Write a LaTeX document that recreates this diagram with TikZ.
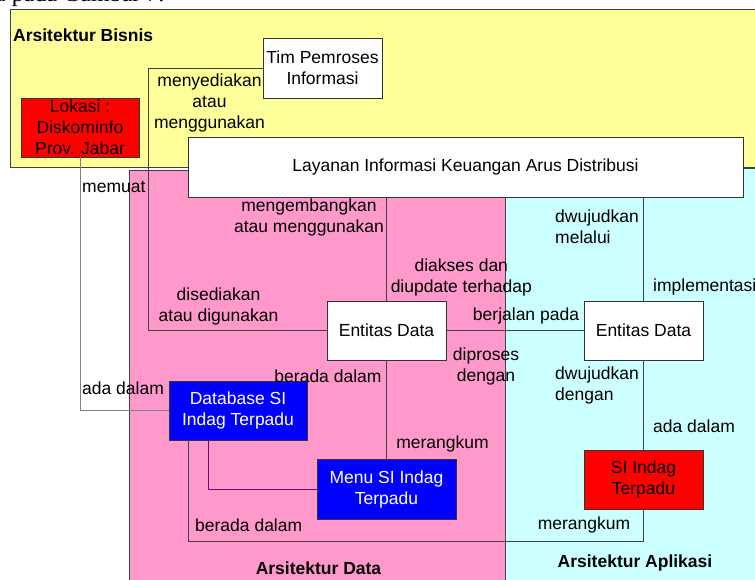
\documentclass[tikz,border=0pt]{standalone}
\usepackage{fontspec}
\setmainfont{Liberation Sans}
\newfontfamily\serifdoc{Liberation Serif}
\definecolor{ylw}{HTML}{FFFF99}
\definecolor{pnk}{HTML}{FF99CC}
\definecolor{cyn}{HTML}{CCFFFF}
\definecolor{lred}{HTML}{FF0000}
\definecolor{lblue}{HTML}{0000FF}
\definecolor{lpurple}{HTML}{800080}
\tikzset{
  box/.style={draw=black!80, line width=0.8pt, inner sep=0pt, align=center},
  wbox/.style={box, fill=white},
  rbox/.style={box, fill=lred, text=black},
  bbox/.style={box, fill=lblue, text=white},
  lbl/.style={inner sep=0pt, align=center},
  conn/.style={draw=black!75, line width=0.8pt},
  area/.style={draw=black!75, line width=0.8pt},
  title/.style={inner sep=0pt, font=\fontsize{17.5}{21}\selectfont\bfseries}
}
\begin{document}
\begin{tikzpicture}[x=1pt, y=-1pt, font=\fontsize{17.5}{21}\selectfont]
\useasboundingbox (0,0) rectangle (755,579);
\clip (0,0) rectangle (755,579);
\fill[white] (0,0) rectangle (755,579);
% document text fragment
\node[anchor=base west, inner sep=0pt, font=\fontsize{24}{26}\serifdoc] (doc) at (-5,1) {a pada Gambar 7.};
% areas
\draw[area, fill=ylw] (10,9) rectangle (770,167);
\draw[area, fill=pnk] (129,170) rectangle (505,600);
\draw[area, fill=cyn] (505,168) rectangle (770,600);
\node[title, anchor=west] (tb) at (13,35) {Arsitektur Bisnis};
\node[title] (td) at (318.5,568) {Arsitektur Data};
\node[title] (ta) at (635,563) {Arsitektur Aplikasi};
% boxes
\node[wbox, minimum width=119pt, minimum height=60pt] (tim) at (322.5,68) {Tim Pemroses\\Informasi};
\node[rbox, minimum width=118pt, minimum height=59pt] (lok) at (80,127.5) {Lokasi :\\Diskominfo\\Prov. Jabar};
\node[wbox, minimum width=555pt, minimum height=60pt] (lay) at (465.5,167) {Layanan Informasi Keuangan Arus Distribusi};
\node[wbox, minimum width=119pt, minimum height=59pt] (ent1) at (386.5,330.5) {Entitas Data};
\node[wbox, minimum width=119pt, minimum height=59pt] (ent2) at (643.5,330.5) {Entitas Data};
\node[bbox, minimum width=138pt, minimum height=59pt] (db) at (238,410.5) {Database SI\\Indag Terpadu};
\node[bbox, minimum width=139pt, minimum height=60pt] (menu) at (386.5,489) {Menu SI Indag\\Terpadu};
\node[rbox, minimum width=119pt, minimum height=59pt] (si) at (643.5,479.5) {SI Indag\\Terpadu};
% connectors
\draw[conn] (tim.west) -- ++(-114,0) |- (ent1.west);
\draw[conn] (lay.south -| ent1.north) -- (ent1.north);
\draw[conn] (lay.south -| ent2.north) -- (ent2.north);
\draw[conn] (ent1.east) -- (ent2.west);
\draw[conn] (ent1.south) -- (menu.north);
\draw[conn] (ent2.south) -- (si.north);
\draw[conn, draw=black!50] (lok.south) |- (db.west);
\draw[conn, draw=lpurple] ([xshift=-30pt]db.south) |- (menu.west);
\draw[conn] (si.south) -- ++(0,32) -| ([xshift=-50pt]db.south);
% labels
\node[lbl] (l1) at (209.5,103) {menyediakan\\atau\\menggunakan};
\node[lbl] (l2) at (218.5,306.5) {disediakan\\atau digunakan};
\node[lbl] (l3) at (309,217.5) {mengembangkan\\atau menggunakan};
\node[lbl, anchor=west, align=left] (l4) at (555,226.5) {dwujudkan\\melalui};
\node[lbl] (l5) at (461.3,277) {diakses dan\\diupdate terhadap};
\node[lbl, anchor=west] (l6) at (653,287) {implementasi};
\node[lbl] (l7) at (526,316) {berjalan pada};
\node[lbl] (l8) at (328,376) {berada dalam};
\node[lbl] (l9) at (486,366) {diproses\\dengan};
\node[lbl, anchor=west, align=left] (l10) at (555,385.5) {dwujudkan\\dengan};
\node[lbl, anchor=west] (l11) at (653,426) {ada dalam};
\node[lbl] (l12) at (442.5,444) {merangkum};
\node[lbl, anchor=west] (l13) at (195,525) {berada dalam};
\node[lbl] (l14) at (584,525) {merangkum};
\node[lbl, anchor=west] (l15) at (82,187) {memuat};
\node[lbl, anchor=west] (l16) at (82,388) {ada dalam};
\end{tikzpicture}
\end{document}
